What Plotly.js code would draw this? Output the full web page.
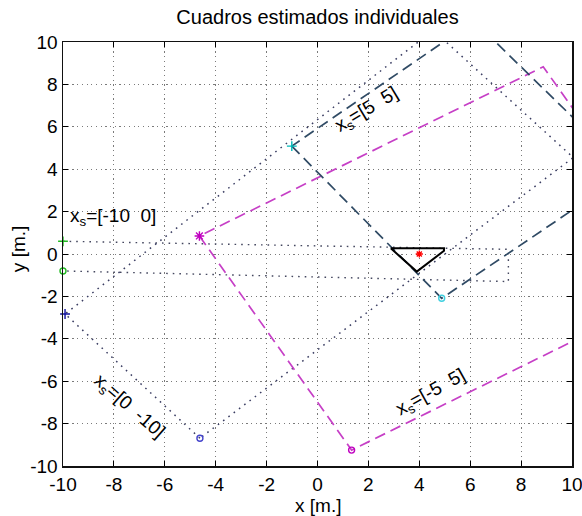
<!DOCTYPE html>
<html>
<head>
<meta charset="utf-8">
<script src="https://cdn.plot.ly/plotly-3.0.1.min.js"></script>
<style>
  html, body { margin: 0; padding: 0; background: #fff; overflow: hidden; }
  #chart { width: 582px; height: 516px; }
</style>
</head>
<body>
<div id="chart"></div>
<script>
// Estimated square for source x_s = [5 5] (dashed), corners in order
const sq55X = [-1.01, 4.88, 12.23, 6.15, -1.01];
const sq55Y = [5.09, -2.09, 3.87, 10.99, 5.09];
const sq55MarkPlusX = [-1.01], sq55MarkPlusY = [5.09];
const sq55MarkOX = [4.88], sq55MarkOY = [-2.09];

// Estimated square for source x_s = [-5 5] (dashed)
const sqM55X = [-4.64, 1.34, 14.85, 8.87, -4.64];
const sqM55Y = [0.85, -9.25, -1.27, 8.83, 0.85];
const sqM55MarkPlusX = [-4.64], sqM55MarkPlusY = [0.85];
const sqM55MarkOX = [1.34], sqM55MarkOY = [-9.25];

// Estimated square for source x_s = [0 -10] (dotted)
const sq010X = [-4.62, -9.92, 4.55, 10.05, -4.62];
const sq010Y = [-8.69, -2.83, 10.55, 4.55, -8.69];
const sq010MarkPlusX = [-9.92], sq010MarkPlusY = [-2.83];
const sq010MarkOX = [-4.62], sq010MarkOY = [-8.69];

// Estimated square for source x_s = [-10 0] (dotted)
const sqM100X = [-10, 7.5, 7.5, -10];
const sqM100Y = [0.6, 0.22, -1.3, -0.8];
const sqM100MarkPlusX = [-10], sqM100MarkPlusY = [0.6];
const sqM100MarkOX = [-10], sqM100MarkOY = [-0.8];

// Microphone array (triangle) and its centre
const arrayX = [2.88, 4.97, 4.97, 3.9, 2.88];
const arrayY = [0.27, 0.27, 0.15, -0.83, 0.27];
const centreX = [4.0], centreY = [0.0];

// Tick values and labels
const tickVals = [-10, -8, -6, -4, -2, 0, 2, 4, 6, 8, 10];
const tickText = ['-10', '-8', '-6', '-4', '-2', '0', '2', '4', '6', '8', '10'];

// Square labels
const labelText = ['x<sub>s</sub>=[-10\u00a0\u00a00]', 'x<sub>s</sub>=[5\u00a0\u00a05]',
                   'x<sub>s</sub>=[0\u00a0\u00a0-10]', 'x<sub>s</sub>=[-5\u00a0\u00a05]'];
const labelX = [-8.05, 1.95, -7.4, 4.45];
const labelY = [1.75, 6.8, -7.2, -6.55];
const labelAngle = [0, -31, 41, -29];

const FONT = 'Liberation Sans, Arial, sans-serif';
const dotted = '1.6px,5px';
const dashed = '11px,6px';

function line(x, y, color, dash, width) {
  return { x: x, y: y, type: 'scatter', mode: 'lines', hoverinfo: 'skip',
           line: { color: color, dash: dash, width: width || 1.2 } };
}
function mark(x, y, color, symbol, size) {
  return { x: x, y: y, type: 'scatter', mode: 'markers', cliponaxis: false, hoverinfo: 'skip',
           marker: { color: color, symbol: symbol, size: size || 7,
                     line: { color: color, width: 1.4 } } };
}

const traces = [
  line(sqM100X, sqM100Y, '#44475f', dotted, 1.4),
  line(sq010X, sq010Y, '#3a3d62', dotted, 1.5),
  line(sqM55X, sqM55Y, '#c63fc6', dashed, 1.7),
  line(sq55X, sq55Y, '#2f4a64', dashed, 1.7),
  line(arrayX, arrayY, '#000000', 'solid', 2),
  mark(sqM100MarkPlusX, sqM100MarkPlusY, '#22bb22', 'cross-thin-open', 7),
  mark(sqM100MarkOX, sqM100MarkOY, '#22bb22', 'circle-open', 6),
  mark(sq010MarkPlusX, sq010MarkPlusY, '#1010a0', 'cross-thin-open', 7),
  mark(sq010MarkOX, sq010MarkOY, '#4444cc', 'circle-open', 6),
  mark(sqM55MarkPlusX, sqM55MarkPlusY, '#c000c0', 'asterisk-open', 8),
  mark(sqM55MarkOX, sqM55MarkOY, '#c000c0', 'circle-open', 6),
  mark(sq55MarkPlusX, sq55MarkPlusY, '#00b8b8', 'cross-thin-open', 7),
  mark(sq55MarkOX, sq55MarkOY, '#40d0e0', 'circle-open', 6),
  mark(centreX, centreY, '#ff0000', 'asterisk-open', 6)
];

const annotations = labelText.map((t, i) => ({
  x: labelX[i], y: labelY[i], xref: 'x', yref: 'y', text: t, showarrow: false,
  textangle: labelAngle[i], font: { family: FONT, size: 19, color: '#000' }
}));
// Axis titles
annotations.push({
  x: 0.5, y: -0.092, xref: 'paper', yref: 'paper', xanchor: 'center', yanchor: 'middle',
  text: 'x [m.]', showarrow: false, font: { family: FONT, size: 19, color: '#000' }
});
annotations.push({
  x: -0.086, y: 0.512, xref: 'paper', yref: 'paper', xanchor: 'center', yanchor: 'middle',
  text: 'y [m.]', showarrow: false, textangle: -90, font: { family: FONT, size: 19, color: '#000' }
});

const axisCommon = {
  range: [-10, 10], tickvals: tickVals, ticktext: tickText,
  ticks: 'inside', ticklen: 5, tickcolor: '#000', tickwidth: 1,
  showline: true, linecolor: '#111', linewidth: 1.5, mirror: 'ticks',
  showgrid: true, gridcolor: '#7a7a7a', griddash: '1.2px,3.5px', gridwidth: 1,
  zeroline: false, fixedrange: true, ticklabeloverflow: 'allow',
  tickfont: { family: FONT, size: 19, color: '#000' }
};

const layout = {
  width: 582, height: 516,
  margin: { l: 63, r: 10, t: 42, b: 50 },
  paper_bgcolor: '#fff', plot_bgcolor: '#fff',
  showlegend: false,
  title: { text: 'Cuadros estimados individuales', xref: 'paper', x: 0.5, xanchor: 'center',
           yref: 'container', y: 0.967, yanchor: 'middle',
           font: { family: FONT, size: 20, color: '#000' } },
  xaxis: Object.assign({}, axisCommon, { ticklabelstandoff: 1 }),
  yaxis: Object.assign({}, axisCommon),
  annotations: annotations
};

Plotly.newPlot('chart', traces, layout, { displayModeBar: false, staticPlot: true });
</script>
</body>
</html>
